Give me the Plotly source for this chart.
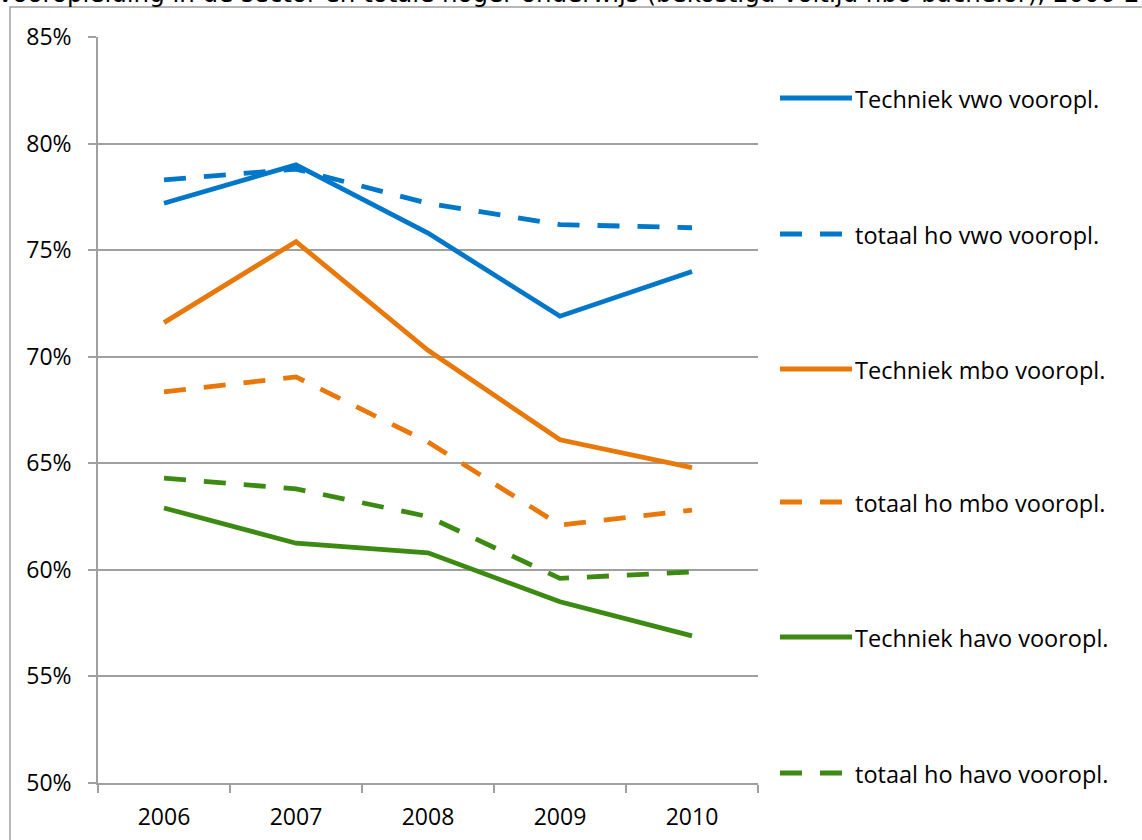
import plotly.graph_objects as go

# data (percent)
years = ["2006", "2007", "2008", "2009", "2010"]
techniek_vwo = [77.2, 79.0, 75.8, 71.9, 74.0]
totaal_vwo = [78.3, 78.8, 77.2, 76.2, 76.05]
techniek_mbo = [71.6, 75.4, 70.3, 66.1, 64.8]
totaal_mbo = [68.35, 69.05, 66.0, 62.1, 62.8]
techniek_havo = [62.9, 61.25, 60.8, 58.5, 56.9]
totaal_havo = [64.3, 63.8, 62.5, 59.6, 59.9]

names = ["Techniek vwo vooropl.", "totaal ho vwo vooropl.",
         "Techniek mbo vooropl.", "totaal ho mbo vooropl.",
         "Techniek havo vooropl.", "totaal ho havo vooropl."]
series = [techniek_vwo, totaal_vwo, techniek_mbo, totaal_mbo, techniek_havo, totaal_havo]

BLUE = "#0077C8"
ORANGE = "#E8780A"
GREEN = "#3C8A12"
colors = [BLUE, BLUE, ORANGE, ORANGE, GREEN, GREEN]
dashes = ["solid", "22px,18px"] * 3

title = "vooropleiding in de sector en totale hoger onderwijs (bekostigd voltijd hbo-bachelor), 2006-2010"

W, H = 1142, 840
X0, X1, Y0, Y1 = 98, 758, 37, 783   # plot area in screen pixels
L, R, T, B = X0, W - X1, Y0, H - Y1
pw, ph = X1 - X0, Y1 - Y0


def px_x(px):
    return (px - X0) / pw


def px_y(py):
    return (Y1 - py) / ph


fig = go.Figure()
for name, ys, col, dash in zip(names, series, colors, dashes):
    fig.add_trace(go.Scatter(x=years, y=ys, mode="lines", name=name,
                             line=dict(color=col, width=4.8, dash=dash)))

# manual legend on the right
shapes = []
annotations = []
legend_y = [98, 234, 369, 502, 637, 773]
for name, col, dash, ly in zip(names, colors, dashes, legend_y):
    shapes.append(dict(type="line", xref="paper", yref="paper",
                       x0=px_x(780), x1=px_x(852), y0=px_y(ly), y1=px_y(ly),
                       line=dict(color=col, width=4.8, dash=dash)))
    annotations.append(dict(text=name, xref="paper", yref="paper",
                            x=px_x(853), y=px_y(ly + 1), xanchor="left", yanchor="middle",
                            showarrow=False, font=dict(size=23.5, color="#000000")))

# outer chart frame (only top/left visible)
shapes.append(dict(type="rect", xref="paper", yref="paper", layer="below",
                   x0=px_x(10), x1=px_x(1300), y0=px_y(1000), y1=px_y(7),
                   line=dict(color="#A0A0A0", width=1.5)))

# cut-off title at the very top
annotations.append(dict(text=title, xref="paper", yref="paper",
                        x=px_x(-4), y=px_y(10), xanchor="left", yanchor="bottom",
                        showarrow=False,
                        font=dict(family="DejaVu Sans", size=24.5, color="#000000")))

fig.update_layout(
    width=W, height=H,
    margin=dict(l=L, r=R, t=T, b=B),
    paper_bgcolor="white", plot_bgcolor="white",
    showlegend=False,
    font=dict(family="Open Sans", size=23, color="#000000"),
    shapes=shapes, annotations=annotations,
)
fig.update_xaxes(type="category", range=[-0.5, 4.5], tickson="boundaries",
                 ticks="outside", ticklen=8, tickcolor="#A0A0A0", tickwidth=1.5,
                 showline=True, linecolor="#A0A0A0", linewidth=1.5,
                 showgrid=False, ticklabelstandoff=13, automargin=False)
fig.update_yaxes(range=[50, 85], dtick=5, ticksuffix="%", ticks="outside",
                 ticklen=8, tickcolor="#A0A0A0", tickwidth=1.5,
                 showline=True, linecolor="#A0A0A0", linewidth=1.5,
                 showgrid=True, gridcolor="#A0A0A0", gridwidth=1.5,
                 zeroline=False, ticklabelstandoff=12, automargin=False)

# drop the default page margin so the figure sits at the window's top-left
fig.write_html("out.html", config={"displayModeBar": False},
               post_script="document.body.style.margin='0';")
